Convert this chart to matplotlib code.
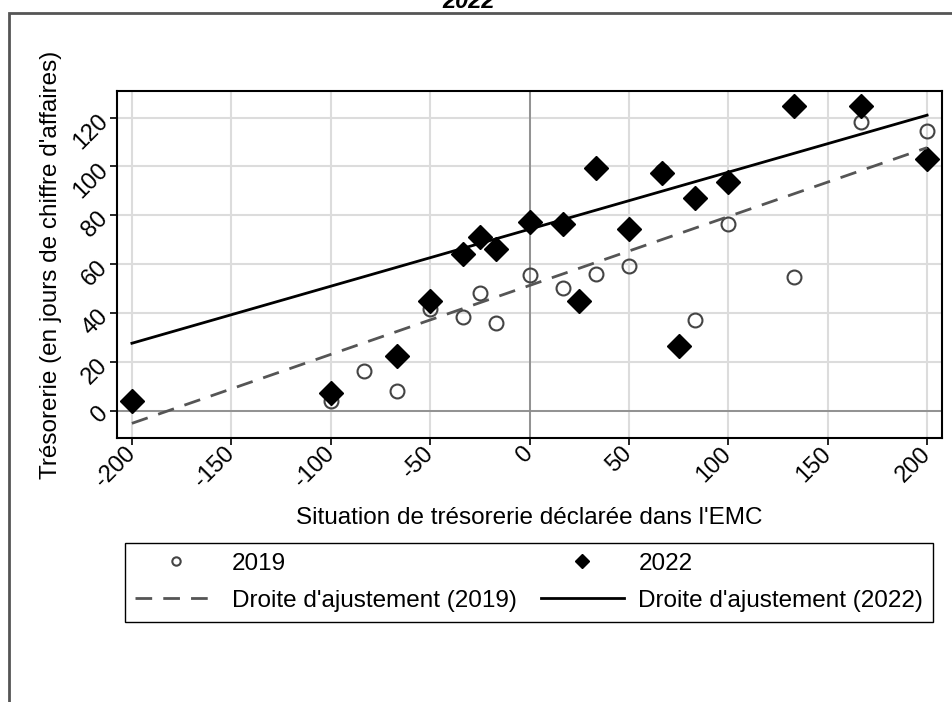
import matplotlib.pyplot as plt
import matplotlib.patches as mpatches

plt.rcParams['font.family'] = ['Liberation Sans', 'DejaVu Sans']

# 2019 points
x_2019 = [-100, -83.3, -66.7, -50, -33.3, -25, -16.7, 0, 16.7, 33.3, 50, 66.7, 83.3, 100, 133.3, 166.7, 200]
y_2019 = [4.0, 16.3, 8.1, 41.5, 38.5, 48.3, 36.0, 55.6, 50.1, 56.0, 59.3, 98.0, 37.1, 76.3, 54.9, 118.2, 114.7]

# 2022 points
x_2022 = [-200, -100, -66.7, -50, -33.3, -25, -16.7, 0, 16.7, 25, 33.3, 50, 66.7, 75, 83.3, 100, 133.3, 166.7, 200]
y_2022 = [4.0, 7.1, 22.4, 45.0, 64.2, 71.0, 66.1, 77.4, 76.5, 45.0, 99.5, 74.5, 97.2, 26.6, 87.0, 93.8, 124.8, 124.8, 103.0]

# fitted lines, read at both ends
fit_x = [-200, 200]
fit_2019 = [-5.2, 107.7]
fit_2022 = [27.6, 121.0]

xticks = [-200, -150, -100, -50, 0, 50, 100, 150, 200]
yticks = [0, 20, 40, 60, 80, 100, 120]

fig = plt.figure(figsize=(9.52, 7.02), dpi=100)
ax = fig.add_axes([117/952, 1-438/702, 825/952, 347/702])

# outer frame of the graph
fig.patches.append(mpatches.Rectangle((9/952, -0.05), 1.2, 1-13/702+0.05, transform=fig.transFigure,
                                      fill=False, edgecolor='#555555', linewidth=2))
fig.text(469/952, 1-1/702, '2022', ha='center', va='center', fontsize=17,
         fontweight='bold', fontstyle='italic')

ax.set_xlim(-207.5, 207.5)
ax.set_ylim(-11.2, 130.9)
ax.set_xticks(xticks)
ax.set_yticks(yticks)
ax.set_xticklabels([str(v) for v in xticks], rotation=45, ha='right', va='center',
                   rotation_mode='anchor', fontsize=17)
ax.set_yticklabels([str(v) for v in yticks], rotation=45, ha='right', va='center',
                   rotation_mode='anchor', fontsize=17)
ax.tick_params(length=5, width=1.2, pad=4)
ax.grid(color='#dcdcdc', linewidth=1.5)
ax.set_axisbelow(True)
ax.axhline(0, color='#8c8c8c', linewidth=1.3, zorder=1)
ax.axvline(0, color='#8c8c8c', linewidth=1.3, zorder=1)
for s in ax.spines.values():
    s.set_linewidth(1.5)

h1, = ax.plot(x_2019, y_2019, 'o', mfc='none', mec='#444444', mew=1.5, ms=10, label='2019', zorder=3)
h3, = ax.plot(x_2022, y_2022, 'D', color='black', ms=12, label='2022', zorder=4)
h2, = ax.plot(fit_x, fit_2019, '--', color='#555555', lw=2, dashes=(6, 4),
              label="Droite d'ajustement (2019)", zorder=5)
h4, = ax.plot(fit_x, fit_2022, '-', color='black', lw=2, label="Droite d'ajustement (2022)", zorder=5)

ax.set_xlabel("Situation de trésorerie déclarée dans l'EMC", fontsize=17.5)
ax.set_ylabel("Trésorerie (en jours de chiffre d'affaires)", fontsize=17.5)
ax.xaxis.set_label_coords(0.5, -0.2)
ax.yaxis.set_label_coords(-0.067, 0.5)

leg = fig.legend(handles=[h1, h2, h3, h4], ncol=2, loc='upper left',
                 bbox_to_anchor=(125/952, 1-543/702), borderaxespad=0, fontsize=17.5,
                 fancybox=False, edgecolor='black', framealpha=1, markerscale=0.6,
                 handlelength=3.4, handletextpad=0.6, columnspacing=1.0, labelspacing=0.62)
leg.get_frame().set_linewidth(1)

fig.savefig('out.png', dpi=100)
